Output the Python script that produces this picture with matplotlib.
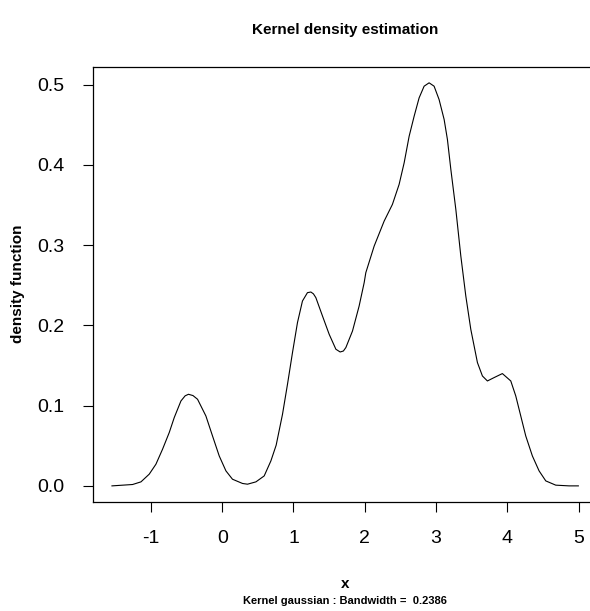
import numpy as np
import matplotlib.pyplot as plt

plt.rcParams['font.family'] = ['Liberation Sans', 'DejaVu Sans']

# density curve
x = [-1.547, -1.258, -1.140, -1.024, -0.930, -0.837, -0.743, -0.673, -0.579,
     -0.52, -0.473, -0.41, -0.346, -0.229, -0.136, -0.042, 0.052, 0.144, 0.285, 0.355,
     0.473, 0.589, 0.683, 0.757, 0.846, 0.916, 0.986, 1.056, 1.126, 1.196,
     1.244, 1.28, 1.314, 1.407, 1.501, 1.595, 1.655, 1.70, 1.735, 1.828, 1.921, 1.992,
     2.015, 2.132, 2.272, 2.388, 2.482, 2.553, 2.623, 2.693, 2.763, 2.833,
     2.903, 2.973, 3.043, 3.114, 3.160, 3.208, 3.278, 3.348, 3.418, 3.488,
     3.581, 3.651, 3.721, 3.815, 3.931, 4.049, 4.119, 4.189, 4.259, 4.352,
     4.446, 4.540, 4.680, 4.867, 4.997]
dens = [0.0000, 0.0017, 0.0050, 0.0146, 0.0270, 0.0457, 0.0665, 0.0851, 0.1058,
        0.1122, 0.1141, 0.1125, 0.1079, 0.0871, 0.0622, 0.0373, 0.0187, 0.0083, 0.0030, 0.0021,
        0.0050, 0.0124, 0.0311, 0.0507, 0.0892, 0.1266, 0.1660, 0.2034, 0.2303, 0.2407,
        0.2415, 0.2392, 0.2345, 0.2116, 0.1888, 0.1702, 0.1668, 0.1680, 0.1723, 0.1929, 0.2240, 0.2532,
        0.2656, 0.2987, 0.3298, 0.3506, 0.3755, 0.4025, 0.4356, 0.4605, 0.4834, 0.4979,
        0.5021, 0.4979, 0.4813, 0.4564, 0.4315, 0.3942, 0.3444, 0.2863, 0.2365, 0.1950,
        0.1536, 0.1369, 0.1307, 0.1349, 0.1399, 0.1307, 0.1120, 0.0871, 0.0622, 0.0373,
        0.0187, 0.0062, 0.0009, 0.0000, 0.0000]

xticks = [-1, 0, 1, 2, 3, 4, 5]
yticks = [0.0, 0.1, 0.2, 0.3, 0.4, 0.5]
bw = 0.2386

fig = plt.figure(figsize=(5.9, 6.11), dpi=100)
ax = fig.add_axes([93.3 / 590, 109 / 611, 503.7 / 590, 435.3 / 611])
ax.plot(x, dens, color='black', lw=0.8)

# R style 4% padding
xr = max(x) - min(x)
yr = max(dens) - min(dens)
ax.set_xlim(min(x) - 0.04 * xr, max(x) + 0.04 * xr)
ax.set_ylim(min(dens) - 0.04 * yr, max(dens) + 0.04 * yr)

ax.set_xticks(xticks)
ax.set_xticklabels([str(t) for t in xticks])
ax.set_yticks(yticks)
ax.set_yticklabels(['%.1f' % t for t in yticks])
ax.tick_params(direction='out', length=7, width=0.8, labelsize=14)
ax.tick_params(axis='x', pad=13)
ax.tick_params(axis='y', pad=14)
for s in ax.spines.values():
    s.set_linewidth(0.9)
ax.spines['right'].set_visible(False)

cx = (93.3 + 597) / 2 / 590
fig.text(cx, 1 - 30 / 611, 'Kernel density estimation', ha='center', va='center',
         fontsize=11, fontweight='bold')
fig.text(cx, 1 - 584 / 611, 'x', ha='center', va='center', fontsize=11, fontweight='bold')
fig.text(cx, 1 - 601 / 611, 'Kernel gaussian : Bandwidth =  %.4f' % bw, ha='center',
         va='center', fontsize=8, fontweight='bold')
fig.text(18 / 590, 1 - 284 / 611, 'density function', ha='center', va='center',
         rotation=90, fontsize=11, fontweight='bold')

fig.savefig('out.png', dpi=100)
